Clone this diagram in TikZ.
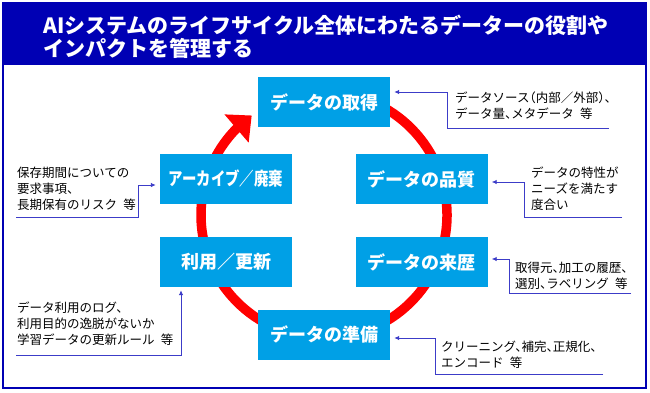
\documentclass[tikz,border=0pt]{standalone}
\usepackage{fontspec}
\setmainfont{Noto Sans CJK JP}
\usepackage{xcolor}
\usetikzlibrary{arrows.meta,calc,bending}

\definecolor{headblue}{RGB}{0,0,180}
\definecolor{boxcyan}{RGB}{0,160,230}
\definecolor{linkblue}{RGB}{60,60,200}

\begin{document}
\begin{tikzpicture}[x=1pt,y=-1pt,
    stagebox/.style={fill=boxcyan, text=white, font=\bfseries\fontsize{18}{20}\selectfont,
        minimum width=132pt, minimum height=50pt, inner sep=0pt},
    note/.style={anchor=west, align=left, inner sep=0pt,
        font=\fontsize{12.5}{16}\selectfont\addfontfeature{RawFeature=+halt}},
    link/.style={draw=linkblue, line width=0.9pt, -{Latex[length=5pt,width=4.5pt]}, shorten >=4pt}]

\useasboundingbox (0,0) rectangle (650,392);
\fill[white] (0,0) rectangle (650,392);
\draw[headblue, line width=2pt] (3,3) rectangle (646,388);
\fill[headblue] (3,3) rectangle (646,65);
\node[anchor=west, align=left, text=white, inner sep=0pt,
    font=\bfseries\fontsize{21}{23}\selectfont] (title) at (43,37)
    {AIシステムのライフサイクル全体にわたるデーターの役割や\\インパクトを管理する};

% the cycle
\draw[red, line width=9.5pt, -{Triangle[length=20pt,width=36pt]}]
    (324,215) ++(-95:123) arc (-95:234:123);

\node[stagebox] (acq) at (324,102) {データの取得};
\node[stagebox] (qual) at (421.5,179) {データの品質};
\node[stagebox] (prov) at (421.5,262) {データの来歴};
\node[stagebox] (prep) at (324,334.5) {データの準備};
\node[stagebox] (use) at (226,262) {利用／更新};
\node[stagebox] (arch) at (226,179) {\scalebox{0.8}[1]{アーカイブ／廃棄}};

% notes
\node[note] (acqNote) at (455,106) {データソース（内部／外部）、\\データ量、メタデータ\enspace 等};
\coordinate (acqTail) at (609,128);
\draw[link] (acqTail) -- (447,128) |- ([yshift=10pt]acq.east);

\node[note] (qualNote) at (531,188.5) {データの特性が\\ニーズを満たす\\度合い};
\coordinate (qualTail) at (622,217);
\draw[link] (qualTail) -- (524,217) |- ([yshift=-3pt]qual.east);

\node[note] (provNote) at (515,275.5) {取得元、加工の履歴、\\選別、ラベリング\enspace 等};
\coordinate (provTail) at (631,293);
\draw[link] (provTail) -- (509,293) |- ([yshift=3pt]prov.east);

\node[note] (prepNote) at (441,355) {クリーニング、補完、正規化、\\エンコード\enspace 等};
\coordinate (prepTail) at (603,374);
\draw[link] (prepTail) -- (435,374) |- ([yshift=-3.5pt]prep.east);

\node[note] (useNote) at (17,324) {データ利用のログ、\\利用目的の逸脱がないか\\学習データの更新ルール\enspace 等};
\coordinate (useTail) at (16,355);
\coordinate (useBend) at (181,355);
\draw[link, shorten >=3pt] (useTail) -- (useBend) -- (useBend |- use.south);

\node[note] (archNote) at (17,188.5) {保存期間についての\\要求事項、\\長期保有のリスク\enspace 等};
\coordinate (archTail) at (16,217);
\draw[link] (archTail) -- (138,217) |- ([yshift=-6pt]arch.west);

\end{tikzpicture}
\end{document}
